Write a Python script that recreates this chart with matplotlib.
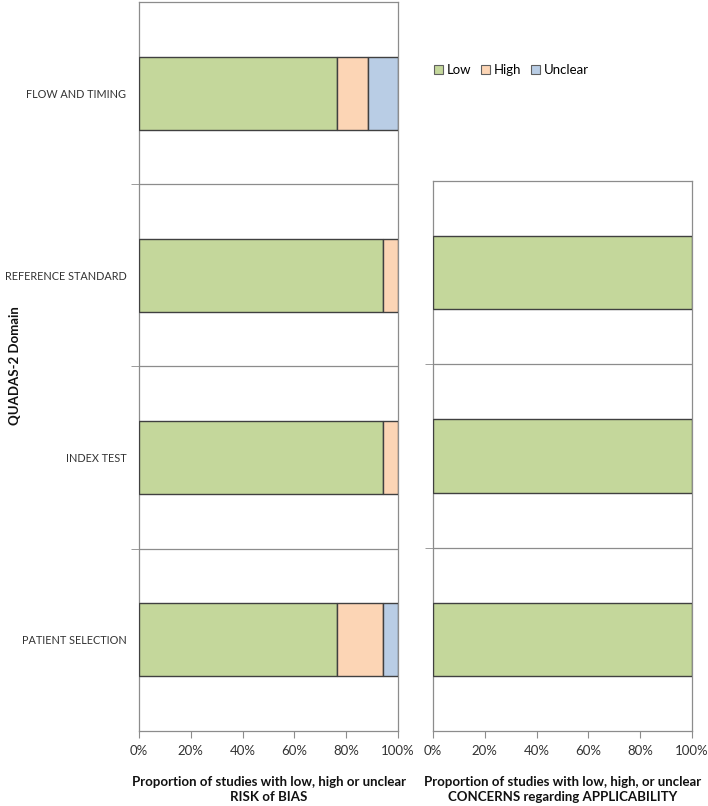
import matplotlib
matplotlib.use("Agg")
import matplotlib.pyplot as plt
import numpy as np

plt.rcParams['font.family'] = ['Lato', 'DejaVu Sans']

# Data (proportions in %)
bias_domains = ["PATIENT SELECTION", "INDEX TEST", "REFERENCE STANDARD", "FLOW AND TIMING"]
bias_low = [76.5, 94.1, 94.1, 76.5]
bias_high = [17.6, 5.9, 5.9, 11.8]
bias_unclear = [5.9, 0.0, 0.0, 11.7]

app_domains = ["PATIENT SELECTION", "INDEX TEST", "REFERENCE STANDARD"]
app_low = [100.0, 100.0, 100.0]
app_high = [0.0, 0.0, 0.0]
app_unclear = [0.0, 0.0, 0.0]

xticks = [0, 20, 40, 60, 80, 100]
xtick_labels = ["0%", "20%", "40%", "60%", "80%", "100%"]
series_names = ["Low", "High", "Unclear"]
colors = ["#c4d79b", "#fcd5b5", "#b9cde5"]
edge = "#404040"
frame = "#8c8c8c"

fig = plt.figure(figsize=(7.08, 8.06), dpi=100)
ax1 = fig.add_axes([139/708, 1-731/806, 259/708, 729/806])
ax2 = fig.add_axes([433/708, 1-731/806, 259/708, 550/806])

def draw(ax, low, high, unclear, n, labels, show_labels):
    y = np.arange(n)
    low = np.array(low); high = np.array(high); unclear = np.array(unclear)
    for vals, left, c in [(low, 0, colors[0]), (high, low, colors[1]), (unclear, low+high, colors[2])]:
        mask = vals > 0
        ax.barh(y[mask], vals[mask], left=(np.zeros(n)+left)[mask], height=0.4,
                color=c, edgecolor=edge, linewidth=1.0, zorder=3)
    ax.set_xlim(0, 100)
    ax.set_ylim(-0.5, n-0.5)
    ax.set_xticks(xticks)
    ax.set_xticklabels(xtick_labels, fontsize=9.5, color="#333333")
    ax.set_yticks(y)
    if show_labels:
        ax.set_yticklabels(labels, fontsize=7.8, color="#333333")
    else:
        ax.set_yticklabels([])
    ax.tick_params(axis='y', which='major', length=0, pad=9)
    ax.set_yticks(np.arange(0.5, n-0.5, 1.0), minor=True)
    ax.tick_params(axis='y', which='minor', length=6, color=frame, direction='out')
    ax.tick_params(axis='x', length=5, color=frame, direction='out', pad=5)
    ax.grid(axis='y', which='minor', color=frame, linewidth=0.9, zorder=1)
    for s in ax.spines.values():
        s.set_color(frame)
        s.set_linewidth(0.9)

draw(ax1, bias_low, bias_high, bias_unclear, 4, bias_domains, True)
draw(ax2, app_low, app_high, app_unclear, 3, app_domains, False)

ax1.set_xlabel("Proportion of studies with low, high or unclear\nRISK of BIAS",
               fontsize=9.5, fontweight='bold', labelpad=14, color="#111111",
               linespacing=1.25)
ax2.set_xlabel("Proportion of studies with low, high, or unclear\nCONCERNS regarding APPLICABILITY",
               fontsize=9.5, fontweight='bold', labelpad=14, color="#111111",
               linespacing=1.25)
fig.text(15/708, 1-366/806, "QUADAS-2 Domain", rotation=90, va='center', ha='center',
         fontsize=9.5, fontweight='bold', color="#111111")

from matplotlib.patches import Patch
handles = [Patch(facecolor=c, edgecolor="#606060", linewidth=0.8, label=l) for c, l in zip(colors, series_names)]
fig.legend(handles=handles, loc='center left', bbox_to_anchor=(422/708, 1-70/806), ncol=3,
           frameon=False, fontsize=9.5, handlelength=0.7, handleheight=0.7, handletextpad=0.3,
           columnspacing=0.7)

fig.savefig("out.png", dpi=100)
